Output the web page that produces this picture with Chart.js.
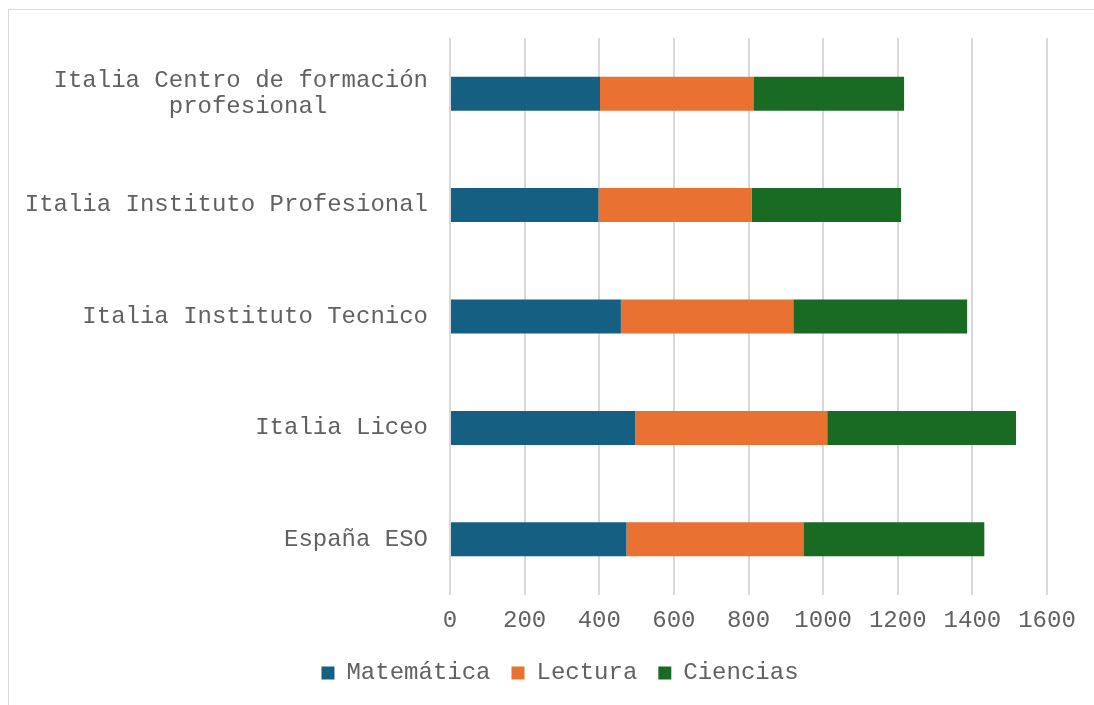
<!DOCTYPE html>
<html>
<head>
<meta charset="utf-8">
<script src="https://cdn.jsdelivr.net/npm/chart.js@4/dist/chart.umd.min.js"></script>
<style>
  html, body { margin: 0; padding: 0; background: #fff; overflow: hidden; }
  #wrap { position: relative; width: 1094px; height: 705px; }
  #frame { position: absolute; left: 8px; top: 9px; width: 1200px; height: 800px; border: 1px solid #d9d9d9; pointer-events: none; }
  canvas { position: absolute; left: 0; top: 0; }
</style>
</head>
<body>
<div id="wrap">
  <canvas id="c" width="1094" height="705"></canvas>
  <div id="frame"></div>
</div>
<script>
const categories = [
  ["Italia Centro de formación", "profesional"],
  "Italia Instituto Profesional",
  "Italia Instituto Tecnico",
  "Italia Liceo",
  "España ESO"
];
const seriesNames = ["Matemática", "Lectura", "Ciencias"];
const matematica = [402, 398, 458, 496, 473];
const lectura = [411, 410, 462, 515, 474];
const ciencias = [404, 401, 466, 506, 485];
const xTicks = [0, 200, 400, 600, 800, 1000, 1200, 1400, 1600];

const colors = ["#156082", "#E97132", "#196B24"];
const FONT = "'Liberation Mono', 'Courier New', monospace";
const TEXT = "#616161";

function centerLines(label) {
  if (!Array.isArray(label)) return label;
  const maxLen = Math.max(...label.map(l => l.length));
  return label.map(l => l + " ".repeat(Math.floor((maxLen - l.length) / 2)));
}

new Chart(document.getElementById("c"), {
  type: "bar",
  data: {
    labels: categories,
    datasets: [
      { label: seriesNames[0], data: matematica, backgroundColor: colors[0] },
      { label: seriesNames[1], data: lectura, backgroundColor: colors[1] },
      { label: seriesNames[2], data: ciencias, backgroundColor: colors[2] }
    ]
  },
  options: {
    indexAxis: "y",
    responsive: false,
    animation: false,
    devicePixelRatio: 1,
    layout: { padding: { left: 26, right: 0, top: 38, bottom: 10 } },
    datasets: { bar: { categoryPercentage: 1, barPercentage: 0.305, borderWidth: 0 } },
    scales: {
      x: {
        stacked: true,
        min: 0,
        max: 1600,
        afterBuildTicks: (s) => { s.ticks = xTicks.map(v => ({ value: v })); },
        grid: { color: "#d9d9d9", lineWidth: 2, drawTicks: false },
        border: { display: false },
        ticks: {
          color: TEXT, font: { family: FONT, size: 24 }, padding: 11,
          maxRotation: 0, minRotation: 0, autoSkip: false,
          callback: (v) => String(v)
        },
        afterFit: (s) => { s.height = 45; }
      },
      y: {
        stacked: true,
        grid: { display: false, drawTicks: false },
        border: { display: false },
        ticks: {
          color: TEXT,
          font: { family: FONT, size: 24, lineHeight: 1.1 },
          padding: 22,
          autoSkip: false,
          callback: function (v) { return centerLines(this.getLabelForValue(v)); }
        },
        afterFit: (s) => { s.width = 424; }
      },
      yRight: {
        position: "right",
        axis: "y",
        type: "linear",
        display: true,
        grid: { display: false, drawTicks: false },
        border: { display: false },
        ticks: { display: false },
        afterFit: (s) => { s.width = 47; }
      }
    },
    plugins: {
      legend: {
        position: "bottom",
        labels: { color: TEXT, font: { family: FONT, size: 24 }, boxWidth: 13, boxHeight: 13, padding: 21 }
      },
      tooltip: { enabled: false }
    }
  }
});
</script>
</body>
</html>
